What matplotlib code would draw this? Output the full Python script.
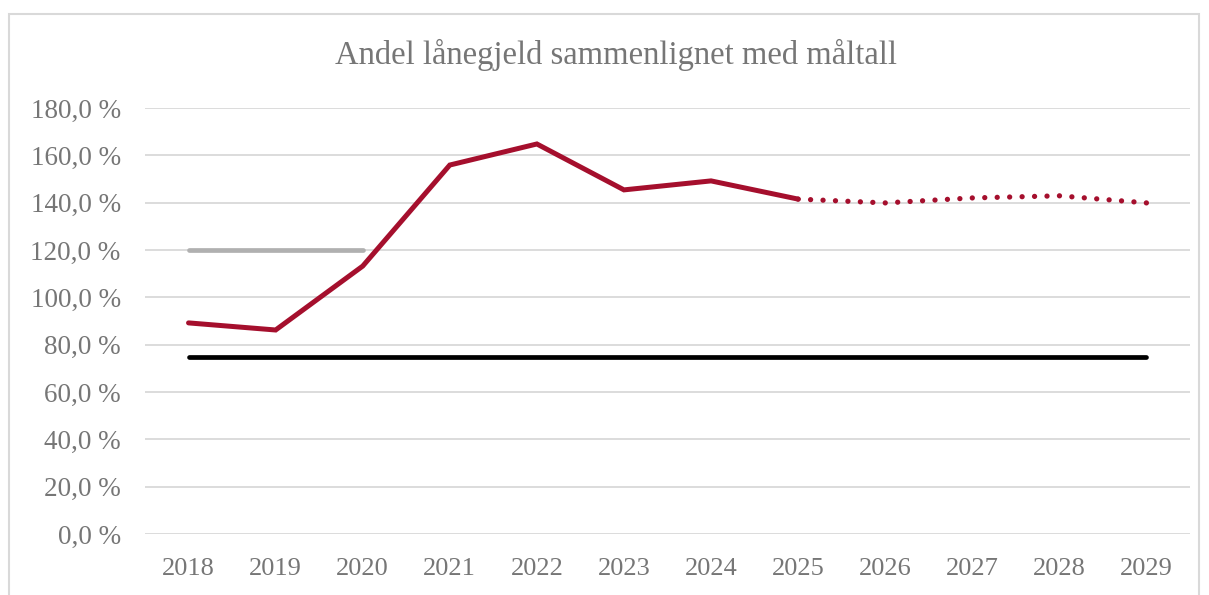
import numpy as np
import matplotlib.pyplot as plt
from matplotlib.patches import Rectangle
from matplotlib.ticker import FuncFormatter

years = ['2018', '2019', '2020', '2021', '2022', '2023', '2024', '2025',
         '2026', '2027', '2028', '2029']
actual = [89.2, 86.2, 113.2, 155.9, 164.8, 145.4, 149.2, 141.5]
forecast = [141.5, 139.9, 142.0, 142.9, 139.9]
old_target = [120.0, 120.0, 120.0]
target = [75.0] * 12

red = '#A50F2D'
text_col = '#767676'
plt.rcParams['font.family'] = ['Liberation Serif', 'DejaVu Serif']

fig = plt.figure(figsize=(12.09, 5.95), dpi=100)
W, H = 1209, 595
ax = fig.add_axes([145 / W, 1 - 534 / H, 1045 / W, 426 / H])

fig.patches.append(Rectangle((9 / W, -0.1), 1190 / W, 1.1 - 14 / H,
                             transform=fig.transFigure, fill=False,
                             edgecolor='#d9d9d9', linewidth=1.5))

x = np.arange(len(years))
ax.plot(x, target, color='black', lw=3.4, solid_capstyle='round', zorder=3)
ax.plot(x[:3], old_target, color='#b0b0b0', lw=3.4, solid_capstyle='round', zorder=3)
ax.plot(x[:8], actual, color=red, lw=3.6, solid_capstyle='round',
        solid_joinstyle='miter', zorder=4)
ax.plot(x[7:], forecast, color=red, lw=3.8, linestyle=(0, (0.01, 2.35)),
        dash_capstyle='round', zorder=4)

ax.set_xlim(-0.5, 11.5)
ax.set_ylim(0, 180)
ax.set_yticks(np.arange(0, 181, 20))
ax.yaxis.set_major_formatter(FuncFormatter(lambda v, p: f'{v:.1f} %'.replace('.', ',')))
ax.set_xticks(x)
ax.set_xticklabels(years)
ax.grid(axis='y', color='#d9d9d9', lw=1.3)
ax.set_axisbelow(True)
for s in ax.spines.values():
    s.set_visible(False)
ax.tick_params(length=0, colors=text_col)
ax.tick_params(axis='y', pad=17.5, labelsize=19.5)
ax.tick_params(axis='x', pad=17, labelsize=19)

fig.text(616 / W, 1 - 55 / H, 'Andel lånegjeld sammenlignet med måltall',
         ha='center', va='center', fontsize=23.5, color=text_col)

fig.savefig('out.png', dpi=100)
